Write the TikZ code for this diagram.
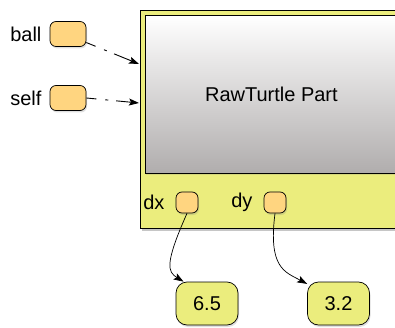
\documentclass[tikz,border=0pt]{standalone}
\usepackage{fontspec}
\setmainfont{Liberation Sans}
\usepackage{tikz}
\usetikzlibrary{arrows.meta}
\usetikzlibrary{shadows}
\definecolor{partyellow}{RGB}{235,237,125}
\definecolor{slotorange}{RGB}{255,213,128}
\definecolor{boxgray}{RGB}{176,173,173}

\begin{document}
\begin{tikzpicture}[x=1pt, y=-1pt, font=\fontsize{20}{24}\selectfont,
    slot/.style={draw, line width=.7pt, fill=slotorange, rounded corners=6pt,
        minimum width=22pt, minimum height=21pt, inner sep=0pt,
        drop shadow={opacity=.25, shadow xshift=1pt, shadow yshift=-2pt}},
    val/.style={draw, line width=.7pt, fill=partyellow, rounded corners=11pt,
        minimum width=62pt, minimum height=43pt, inner sep=0pt,
        drop shadow={opacity=.25, shadow xshift=1pt, shadow yshift=-2pt}},
    ref/.style={-{Stealth[length=10pt, width=7pt, inset=2pt]}, line width=.7pt},
    dotref/.style={ref, line width=.9pt, dash pattern=on 10pt off 9pt on 3pt off 8pt on 80pt}]
    \useasboundingbox (0,0) rectangle (395,328);

    \node[draw, line width=.9pt, fill=partyellow, minimum width=270pt, minimum height=218pt,
        anchor=north west, inner sep=0pt,
        drop shadow={opacity=.45, shadow xshift=2pt, shadow yshift=-3pt}] (part) at (140,10) {};
    \node[draw, line width=.8pt, top color=white, bottom color=boxgray, minimum width=252pt,
        minimum height=158pt, anchor=north west, inner sep=0pt,
        drop shadow={opacity=.2, shadow xshift=1pt, shadow yshift=-2pt}] (raw) at (145,15) {RawTurtle Part};

    \foreach \nm/\py in {ball/34, self/98} {
        \node[slot, minimum width=36pt, minimum height=25pt,
            label={[inner sep=0pt, label distance=8pt]left:\nm}] (\nm) at (68,\py) {};
    }
    \foreach \nm/\px in {dx/187, dy/275} {
        \node[slot, label={[inner sep=0pt, label distance=11pt]left:\nm}] (\nm) at (\px,202.5) {};
    }

    \node[val] (v65) at (207,303.5) {6.5};
    \node[val] (v32) at (338.5,303.5) {3.2};

    \coordinate (ball-in) at (139,64);
    \coordinate (self-in) at (139,103);
    \draw[dotref] (ball.-25) -- (ball-in);
    \draw[dotref] (self.east) -- (self-in);
    \draw[ref] (dx.south) .. controls (164,265) and (168,272) .. (v65.137);
    \draw[ref] (dy.south) .. controls (268,268) and (285,272) .. (v32.148);
\end{tikzpicture}
\end{document}
